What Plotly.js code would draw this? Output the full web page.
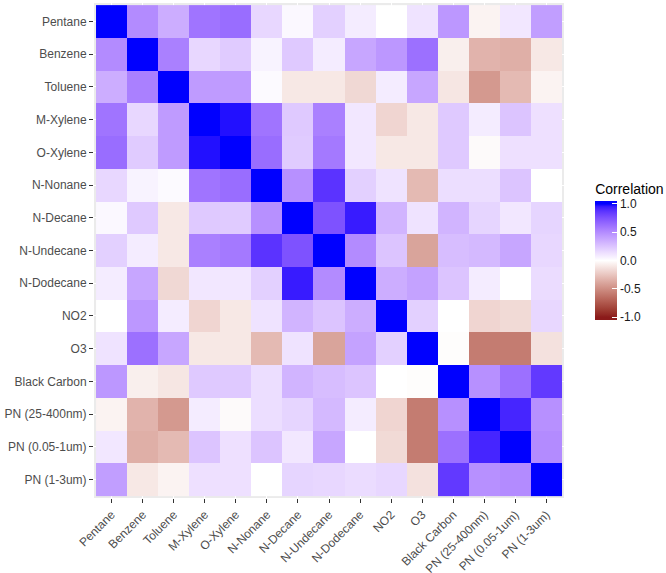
<!DOCTYPE html>
<html>
<head>
<meta charset="utf-8">
<script src="https://cdn.plot.ly/plotly-3.0.1.min.js"></script>
<style>html,body{margin:0;padding:0;background:#fff;}#chart{width:666px;height:573px;}</style>
</head>
<body>
<div id="chart"></div>
<script>
// Variable labels (rows top-to-bottom, columns left-to-right)
const labels = ["Pentane","Benzene","Toluene","M-Xylene","O-Xylene","N-Nonane","N-Decane","N-Undecane","N-Dodecane","NO2","O3","Black Carbon","PN (25-400nm)","PN (0.05-1um)","PN (1-3um)"];

// Correlation matrix rows
const rowPentane   = [1, 0.5, 0.35, 0.6, 0.63, 0.17, 0.03, 0.2, 0.08, 0.0, 0.12, 0.45, -0.05, 0.1, 0.42];
const rowBenzene   = [0.5, 1, 0.55, 0.17, 0.22, 0.05, 0.23, 0.08, 0.38, 0.45, 0.62, -0.07, -0.33, -0.35, -0.1];
const rowToluene   = [0.35, 0.55, 1, 0.43, 0.43, 0.02, -0.1, -0.1, -0.17, 0.08, 0.38, -0.11, -0.45, -0.3, -0.05];
const rowMXylene   = [0.6, 0.17, 0.43, 1, 0.97, 0.6, 0.23, 0.55, 0.1, -0.18, -0.1, 0.23, 0.08, 0.25, 0.13];
const rowOXylene   = [0.63, 0.22, 0.43, 0.97, 1, 0.63, 0.22, 0.58, 0.1, -0.1, -0.1, 0.23, -0.02, 0.13, 0.13];
const rowNNonane   = [0.17, 0.05, 0.02, 0.6, 0.63, 1, 0.48, 0.87, 0.2, 0.12, -0.3, 0.14, 0.14, 0.25, 0.0];
const rowNDecane   = [0.03, 0.23, -0.1, 0.23, 0.22, 0.48, 1, 0.75, 0.95, 0.32, 0.12, 0.32, 0.18, 0.1, 0.18];
const rowNUndecane = [0.2, 0.08, -0.1, 0.55, 0.58, 0.87, 0.75, 1, 0.5, 0.25, -0.4, 0.28, 0.3, 0.38, 0.17];
const rowNDodecane = [0.08, 0.38, -0.17, 0.1, 0.1, 0.2, 0.95, 0.5, 1, 0.35, 0.4, 0.25, 0.08, 0.0, 0.15];
const rowNO2       = [0.0, 0.45, 0.08, -0.18, -0.1, 0.12, 0.32, 0.25, 0.35, 1, 0.2, 0.0, -0.18, -0.16, 0.17];
const rowO3        = [0.12, 0.62, 0.38, -0.1, -0.1, -0.3, 0.12, -0.4, 0.4, 0.2, 1, -0.01, -0.58, -0.58, -0.13];
const rowBC        = [0.45, -0.07, -0.11, 0.23, 0.23, 0.14, 0.32, 0.28, 0.25, 0.0, -0.01, 1, 0.48, 0.62, 0.85];
const rowPN25      = [-0.05, -0.33, -0.45, 0.08, -0.02, 0.14, 0.18, 0.3, 0.08, -0.18, -0.58, 0.48, 1, 0.92, 0.48];
const rowPN005     = [0.1, -0.35, -0.3, 0.25, 0.13, 0.25, 0.1, 0.38, 0.0, -0.16, -0.58, 0.62, 0.92, 1, 0.5];
const rowPN13      = [0.42, -0.1, -0.05, 0.13, 0.13, 0.0, 0.18, 0.17, 0.15, 0.17, -0.13, 0.85, 0.48, 0.5, 1];

const colorbarTicks = [-1, -0.5, 0, 0.5, 1];
const colorbarLabels = ["-1.0", "-0.5", "0.0", "0.5", "1.0"];

const z = [rowPentane,rowBenzene,rowToluene,rowMXylene,rowOXylene,rowNNonane,rowNDecane,rowNUndecane,rowNDodecane,rowNO2,rowO3,rowBC,rowPN25,rowPN005,rowPN13];

// ggplot-like gradient2 (Lab interpolation) low -> white -> blue
function hex2rgb(h){h=h.replace('#','');return [parseInt(h.substr(0,2),16),parseInt(h.substr(2,2),16),parseInt(h.substr(4,2),16)];}
function toLin(c){c/=255;return c<=0.04045?c/12.92:Math.pow((c+0.055)/1.055,2.4);}
function fromLin(c){c=Math.max(0,Math.min(1,c));return c<=0.0031308?12.92*c:1.055*Math.pow(c,1/2.4)-0.055;}
const Xn=0.95047,Yn=1,Zn=1.08883;
function f(t){return t>0.008856?Math.cbrt(t):(7.787*t+16/116);}
function fi(t){return t>0.206893?t*t*t:(t-16/116)/7.787;}
function rgb2lab(rgb){const r=toLin(rgb[0]),g=toLin(rgb[1]),b=toLin(rgb[2]);
 const X=0.4124*r+0.3576*g+0.1805*b,Y=0.2126*r+0.7152*g+0.0722*b,Z=0.0193*r+0.1192*g+0.9505*b;
 const fx=f(X/Xn),fy=f(Y/Yn),fz=f(Z/Zn);return [116*fy-16,500*(fx-fy),200*(fy-fz)];}
function lab2rgb(lab){const fy=(lab[0]+16)/116,fx=fy+lab[1]/500,fz=fy-lab[2]/200;
 const X=Xn*fi(fx),Y=Yn*fi(fy),Z=Zn*fi(fz);
 const r=3.2406*X-1.5372*Y-0.4986*Z,g=-0.9689*X+1.8758*Y+0.0415*Z,b=0.0557*X-0.2040*Y+1.0570*Z;
 return 'rgb('+[r,g,b].map(c=>Math.round(fromLin(c)*255)).join(',')+')';}
const LOW=rgb2lab(hex2rgb('#8B1A1A')), MID=rgb2lab(hex2rgb('#FFFFFF')), HIGH=rgb2lab(hex2rgb('#0000FF'));
function colorAt(v){v=Math.max(-1,Math.min(1,v));let a,b,t;if(v<=0){a=LOW;b=MID;t=v+1;}else{a=MID;b=HIGH;t=v;}
 return lab2rgb([a[0]+(b[0]-a[0])*t,a[1]+(b[1]-a[1])*t,a[2]+(b[2]-a[2])*t]);}
// bar extends slightly beyond +-1 (as in ggplot legend); colours clamp at the ends
const ZMIN=-1.05, ZMAX=1.05;
const cs=[]; 
cs.push([0,colorAt(ZMIN)]);
for(let i=0;i<=40;i++){const v=-1+i*0.05;cs.push([(v-ZMIN)/(ZMAX-ZMIN),colorAt(v)]);}
cs.push([1,colorAt(ZMAX)]);

const idx = labels.map((_,i)=>i);
const font = "Liberation Sans, Arial, sans-serif";

const trace = {
  type:'heatmap', z:z, x:idx, y:idx, zmin:ZMIN, zmax:ZMAX, colorscale:cs, xgap:0, ygap:0,
  hoverinfo:'skip',
  colorbar:{
    title:{text:'Correlation', side:'top', font:{family:font,size:14,color:'#000'}},
    x:1.064, xanchor:'left', y:0.6424, yanchor:'top',
    thickness:22, thicknessmode:'pixels', len:140, lenmode:'pixels',
    outlinewidth:0, tickvals:colorbarTicks, ticktext:colorbarLabels,
    ticks:'inside', ticklen:5, tickcolor:'#ffffff', tickwidth:1,
    tickfont:{family:font,size:12,color:'#1a1a1a'}, xpad:0, ypad:0
  }
};

const axisCommon = {
  showgrid:true, gridcolor:'#ffffff', gridwidth:1, zeroline:false, showline:false,
  ticks:'outside', ticklen:4, tickcolor:'#333333', tickwidth:1,
  tickfont:{family:font,size:12,color:'#4d4d4d'}, tickvals:idx, ticktext:labels,
  automargin:false, fixedrange:true
};

const layout = {
  width:666, height:573,
  margin:{l:94, r:101, t:3, b:75},
  paper_bgcolor:'#ffffff', plot_bgcolor:'#EBEBEB',
  xaxis:Object.assign({}, axisCommon, {range:[-0.565,14.565], tickangle:-45}),
  yaxis:Object.assign({}, axisCommon, {range:[14.565,-0.565]}),
  font:{family:font}
};

Plotly.newPlot('chart',[trace],layout,{displayModeBar:false,staticPlot:true});
</script>
</body>
</html>
